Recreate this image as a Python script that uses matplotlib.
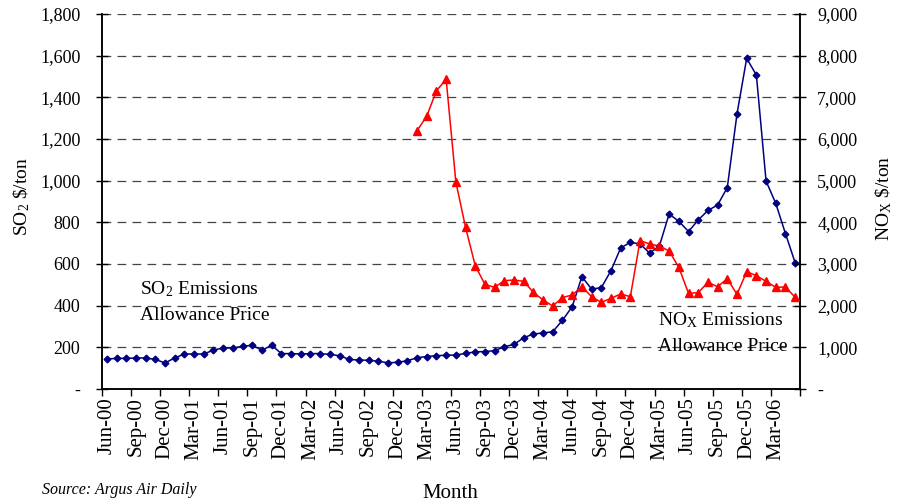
import matplotlib
matplotlib.use("Agg")
import matplotlib.pyplot as plt
import numpy as np

plt.rcParams["font.family"] = ["Liberation Serif", "DejaVu Serif"]
plt.rcParams["mathtext.default"] = "regular"

# monthly prices, Jun-00 .. May-06
so2 = [144, 147, 147, 149, 149, 142, 125, 149, 168, 168, 168, 187,
       197, 197, 205, 210, 186, 210, 170, 170, 168, 170, 170, 166,
       160, 142, 139, 138, 133, 126, 128, 136, 150, 156, 160, 162,
       163, 171, 178, 180, 184, 203, 214, 246, 264, 269, 275, 330,
       395, 539, 480, 486, 568, 677, 704, 696, 652, 687, 840, 805,
       756, 811, 857, 883, 967, 1320, 1587, 1507, 998, 891, 746, 606]

# NOx series starts Feb-03
nox = [np.nan] * 32 + [
    6200, 6550, 7160, 7430, 4970, 3880, 2960, 2510, 2440, 2600,
    2616, 2584, 2320, 2136, 1992, 2196, 2256, 2456, 2216, 2080,
    2176, 2280, 2216, 3560, 3480, 3432, 3312, 2920, 2296, 2312,
    2560, 2456, 2648, 2272, 2816, 2720, 2584, 2440, 2448, 2200]

tick_labels = ["Jun-00", "Sep-00", "Dec-00", "Mar-01", "Jun-01", "Sep-01",
               "Dec-01", "Mar-02", "Jun-02", "Sep-02", "Dec-02", "Mar-03",
               "Jun-03", "Sep-03", "Dec-03", "Mar-04", "Jun-04", "Sep-04",
               "Dec-04", "Mar-05", "Jun-05", "Sep-05", "Dec-05", "Mar-06"]

W, H = 903, 503
fig = plt.figure(figsize=(W / 100, H / 100), dpi=100)
ax = fig.add_axes([102 / W, 1 - 389 / H, 698 / W, 375 / H])
ax2 = ax.twinx()

x = np.arange(len(so2))
ax.plot(x, so2, color="#000080", lw=1.1, marker="D", ms=3.4,
        zorder=3)
ax2.plot(x, nox, color="#ff0000", lw=1.1, marker="^", ms=6,
         zorder=3)

ax.set_xlim(-0.5, len(so2) - 0.5)
ax.set_ylim(0, 1800)
ax2.set_ylim(0, 9000)

# tick marks on category boundaries, labels on categories
ax.set_xticks(np.arange(0, len(so2) + 1, 3) - 0.5)
ax.set_xticklabels([])
ax.set_xticks(np.arange(len(tick_labels)) * 3, minor=True)
ax.set_xticklabels(tick_labels, minor=True, rotation=90, fontsize=15)
ax.tick_params(axis="x", which="major", direction="out", length=5,
               width=1, color="black")
ax.tick_params(axis="x", which="minor", length=0, pad=6)

left_ticks = np.arange(0, 1801, 200)
ax.set_yticks(left_ticks)
ax.set_yticklabels(["-"] + ["{:,}".format(v) for v in left_ticks[1:]],
                   fontsize=13)
ax.tick_params(axis="y", direction="inout", length=9, width=1, pad=11)

right_ticks = np.arange(0, 9001, 1000)
ax2.set_yticks(right_ticks)
ax2.set_yticklabels(["-"] + ["{:,}".format(v) for v in right_ticks[1:]],
                    fontsize=13)
ax2.tick_params(axis="y", direction="inout", length=9, width=1, pad=8)

ax.grid(axis="y", color="#444444", linestyle=(0, (7, 5)), lw=0.9)
ax.set_axisbelow(True)
for a in (ax, ax2):
    a.spines["top"].set_visible(False)
    a.spines["left"].set_linewidth(1.1)
    a.spines["right"].set_linewidth(1.1)
    a.spines["bottom"].set_linewidth(1.1)

fig.text(140 / W, 1 - 294 / H, "SO$_2$ Emissions", fontsize=14,
         va="baseline")
fig.text(140 / W, 1 - 320 / H, "Allowance Price", fontsize=14,
         va="baseline")
fig.text(658 / W, 1 - 325 / H, "NO$_X$ Emissions", fontsize=14,
         va="baseline")
fig.text(658 / W, 1 - 351 / H, "Allowance Price", fontsize=14,
         va="baseline")

fig.text(22 / W, 1 - 196 / H, "SO$_2$ \\$/ton", rotation=90, fontsize=14,
         ha="center", va="center")
fig.text(884 / W, 1 - 198 / H, "NO$_X$ \\$/ton", rotation=90, fontsize=14,
         ha="center", va="center")
fig.text(450 / W, 1 - 498 / H, "Month", fontsize=15, ha="center",
         va="baseline")
fig.text(42 / W, 1 - 494 / H, "Source: Argus Air Daily", fontsize=11.5,
         style="italic", va="baseline")

fig.savefig("out.png", dpi=100)
